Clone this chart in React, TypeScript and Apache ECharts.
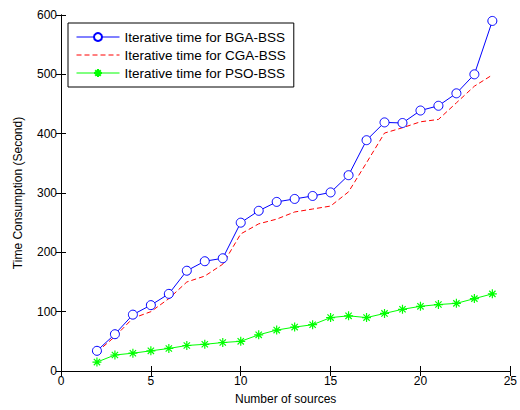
import React, { useEffect, useRef } from "react";
import * as echarts from "echarts";

const sources = [2, 3, 4, 5, 6, 7, 8, 9, 10, 11, 12, 13, 14, 15, 16, 17, 18, 19, 20, 21, 22, 23, 24];
const bga = [34, 62, 95, 111, 130, 169, 185, 190, 250, 270, 285, 290, 295, 301, 330, 389, 419, 418, 439, 447, 468, 500, 590];
const cga = [32, 58, 89, 100, 122, 150, 160, 180, 231, 248, 256, 268, 273, 278, 302, 351, 401, 410, 420, 424, 452, 480, 499];
const pso = [15, 27, 30, 34, 38, 43, 45, 48, 50, 61, 69, 74, 78, 90, 93, 90, 97, 104, 109, 112, 114, 122, 130];

const FONT = "Liberation Sans, Arial, sans-serif";
const star = "path://M5,0L5,10M0,5L10,5M1.5,1.5L8.5,8.5M1.5,8.5L8.5,1.5";

export default function App() {
  const ref = useRef<HTMLDivElement>(null);
  useEffect(() => {
    const chart = echarts.init(ref.current!, null, { renderer: "svg" });
    const pair = (ys: number[]) => sources.map((x, i) => [x, ys[i]]);
    const axisCommon = {
      axisLine: { show: true, lineStyle: { color: "#000", width: 1 } },
      axisTick: { show: true, inside: true, length: 5, lineStyle: { color: "#000" } },
      splitLine: { show: false },
    };
    chart.setOption({
      animation: false,
      backgroundColor: "#fff",
      textStyle: { fontFamily: FONT },
      grid: { left: 61, right: 4, top: 15, bottom: 37 },
      xAxis: [
        {
          type: "value", min: 0, max: 25, interval: 5, position: "bottom",
          ...axisCommon,
          axisLabel: { color: "#000", fontSize: 12, fontFamily: FONT, margin: 4 },
          name: "Number of sources", nameLocation: "middle", nameGap: 22,
          nameTextStyle: { color: "#000", fontSize: 12, fontFamily: FONT },
        },
        {
          type: "value", min: 0, max: 25, interval: 5, position: "top",
          ...axisCommon, axisLabel: { show: false },
        },
      ],
      yAxis: [
        {
          type: "value", min: 0, max: 600, interval: 100, position: "left",
          ...axisCommon,
          axisLabel: { color: "#000", fontSize: 12, fontFamily: FONT, margin: 4 },
          name: "Time Consumption (Second)", nameLocation: "middle", nameGap: 37,
          nameTextStyle: { color: "#000", fontSize: 12, fontFamily: FONT },
        },
        {
          type: "value", min: 0, max: 600, interval: 100, position: "right",
          ...axisCommon, axisLabel: { show: false },
        },
      ],
      legend: {
        orient: "vertical", left: 68, top: 23,
        backgroundColor: "#fff", borderColor: "#000", borderWidth: 1,
        padding: [7, 8, 7, 8], itemGap: 4, itemWidth: 43, itemHeight: 10,
        textStyle: { color: "#000", fontSize: 13.5, fontFamily: FONT },
        lineStyle: { width: 1 },
        data: ["Iterative time for BGA-BSS", "Iterative time for CGA-BSS", "Iterative time for PSO-BSS"],
      },
      series: [
        {
          name: "Iterative time for BGA-BSS", type: "line", data: pair(bga),
          symbol: "circle", symbolSize: 9, showAllSymbol: true,
          lineStyle: { color: "#0000ff", width: 1 },
          itemStyle: { color: "#fff", borderColor: "#0000ff", borderWidth: 1 },
        },
        {
          name: "Iterative time for CGA-BSS", type: "line", data: pair(cga),
          symbol: "circle", symbolSize: 0.01, showSymbol: false,
          lineStyle: { color: "#ff0000", width: 1, type: [5, 3] },
          itemStyle: { color: "rgba(0,0,0,0)", borderColor: "rgba(0,0,0,0)", borderWidth: 0 },
        },
        {
          name: "Iterative time for PSO-BSS", type: "line", data: pair(pso),
          symbol: star, symbolSize: 9, showAllSymbol: true,
          lineStyle: { color: "#00ff00", width: 1 },
          itemStyle: { color: "#00ff00", borderColor: "#00ff00", borderWidth: 1.2 },
        },
      ],
    });
    return () => chart.dispose();
  }, []);
  return <div ref={ref} style={{ width: 520, height: 410, position: "absolute", left: 0, top: 0 }} />;
}
